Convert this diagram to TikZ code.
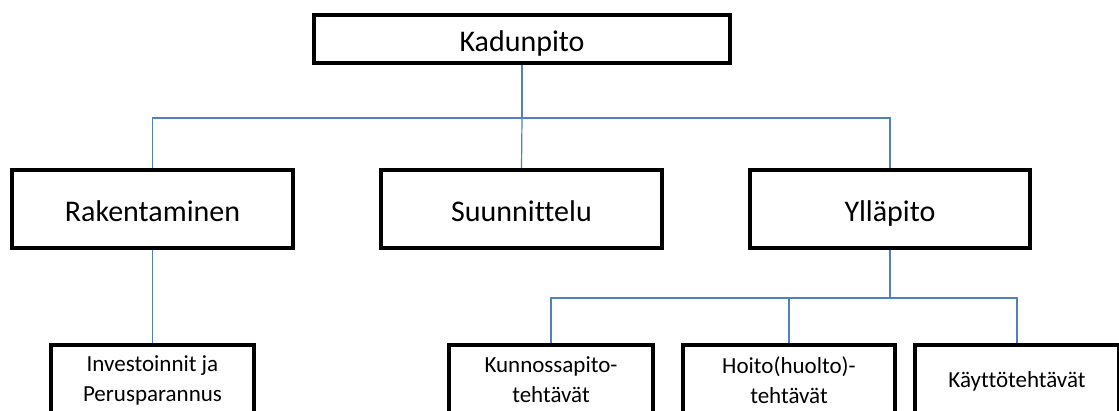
\documentclass[tikz,border=0pt]{standalone}
\usepackage{fontspec}
\setmainfont{Carlito}[Ligatures=NoCommon]
\definecolor{linkblue}{RGB}{79,129,189}
\begin{document}
\begin{tikzpicture}[x=1pt,y=-1pt,
  box/.style={draw=black,line width=4pt,fill=white,inner sep=0pt,
    align=center,text=black},
  bigbox/.style={box,font=\fontsize{30}{36}\selectfont,text height=25pt,text depth=0pt},
  smallbox/.style={box,font=\fontsize{23}{30}\selectfont},
  link/.style={draw=linkblue,line width=1.2pt}]
  \useasboundingbox (0,0) rectangle (1119,410);
  \clip (0,0) rectangle (1119,410);
  \fill[white] (0,0) rectangle (1119,410);

  % top level
  \node[bigbox,minimum width=416pt,minimum height=48pt] (kad) at (522,39) {Kadunpito};

  % second level
  \node[bigbox,minimum width=281pt,minimum height=78pt] (rak) at (152.5,209) {Rakentaminen};
  \node[bigbox,minimum width=281pt,minimum height=78pt] (suu) at (521.5,209) {Suunnittelu};
  \node[bigbox,minimum width=280pt,minimum height=78pt] (yll) at (890,209) {Ylläpito};

  % third level
  \node[smallbox,minimum width=203pt,minimum height=70pt] (inv) at (152.5,380) {Investoinnit ja\\Perusparannus};
  \node[smallbox,minimum width=204pt,minimum height=70pt] (kun) at (551,380) {Kunnossapito-\\tehtävät};
  \node[smallbox,minimum width=212pt,minimum height=70pt] (hoi) at (789,380) {Hoito(huolto)-\\tehtävät};
  \node[smallbox,minimum width=204pt,minimum height=70pt,text height=16pt,text depth=2pt] (kay) at (1017,380) {Käyttötehtävät};

  % connector buses
  \coordinate (busA) at (0,118);
  \coordinate (busB) at (0,298);

  \draw[link] (kad.south) -- (kad.south |- busA) -| (rak.north);
  \draw[link] (kad.south |- busA) -| (yll.north);
  \draw[link] (kad.south |- busA) -- (suu.north);

  \draw[link] (rak.south) -- (inv.north);

  \draw[link] (yll.south) -- (yll.south |- busB) -| (kun.north);
  \draw[link] (yll.south |- busB) -| (kay.north);
  \draw[link] (hoi.north |- busB) -- (hoi.north);
\end{tikzpicture}
\end{document}
